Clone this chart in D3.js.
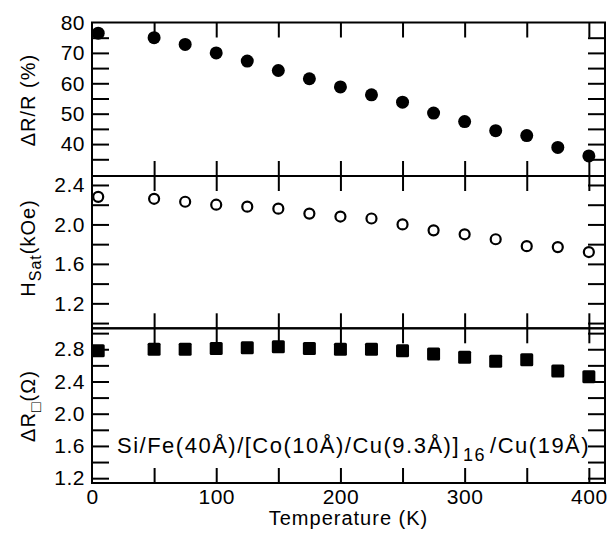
<!DOCTYPE html>
<html><head><meta charset="utf-8">
<script src="https://cdn.jsdelivr.net/npm/d3@7"></script>
<style>
html,body{margin:0;padding:0;background:#fff;}
svg text{font-family:"Liberation Sans",Arial,Helvetica,sans-serif;fill:#000;}
</style></head>
<body><svg id="c" width="616" height="533"></svg>
<script>
// ---- data ----
const temps = [5, 50, 75, 100, 125, 150, 175, 200, 225, 250, 275, 300, 325, 350, 375, 400];
const dRR = [76.5, 75.0, 72.8, 70.0, 67.3, 64.2, 61.5, 58.8, 56.2, 53.8, 50.2, 47.4, 44.4, 42.8, 38.9, 36.1];
const hSat = [2.28, 2.26, 2.23, 2.20, 2.18, 2.16, 2.11, 2.08, 2.06, 2.00, 1.94, 1.90, 1.85, 1.78, 1.77, 1.72];
const dR0 = [2.78, 2.80, 2.80, 2.81, 2.82, 2.83, 2.81, 2.80, 2.80, 2.78, 2.74, 2.70, 2.65, 2.67, 2.53, 2.46];
const xTickLabels = [0, 100, 200, 300, 400];
const topTickLabels = [40, 50, 60, 70, 80];
const midTickLabels = [1.2, 1.6, 2.0, 2.4];
const botTickLabels = [1.2, 1.6, 2.0, 2.4, 2.8];

const svg = d3.select("#c");
const L = 92, R = 605;
const x = d3.scaleLinear().domain([0, 413]).range([L, R]);

const panels = [
  {top: 22.5, bot: 176, domain: [29.5, 80], minor: d3.range(35, 76, 5), labels: topTickLabels, fmt: d3.format("d")},
  {top: 176, bot: 328.3, domain: [0.947, 2.491], minor: d3.range(1.0, 2.41, 0.2), labels: midTickLabels, fmt: d3.format(".1f")},
  {top: 328.3, bot: 483, domain: [1.14, 3.06], minor: d3.range(1.2, 3.01, 0.2), labels: botTickLabels, fmt: d3.format(".1f")}
];
panels.forEach(p => { p.y = d3.scaleLinear().domain(p.domain).range([p.bot, p.top]); });

const xMinor = d3.range(50, 401, 50);
const isLab = (arr, d) => arr.some(v => Math.abs(v - d) < 1e-6);

panels.forEach((p, i) => {
  const vals = p.minor.concat(p.labels.filter(v => !p.minor.some(m => Math.abs(m - v) < 1e-6)));
  const gl = svg.append("g").attr("transform", `translate(${L},0)`)
    .call(d3.axisLeft(p.y).tickValues(vals)
      .tickSize(-17).tickPadding(7).tickFormat(d => isLab(p.labels, d) ? p.fmt(d) : ""));
  gl.select(".domain").remove();
  gl.selectAll("line").attr("stroke", "#000").attr("stroke-width", 2)
    .filter(d => Math.abs(p.y(d) - p.top) < 2 || Math.abs(p.y(d) - p.bot) < 2).remove();
  gl.selectAll("text").attr("font-size", 21).attr("letter-spacing", 0.5);
  const gr = svg.append("g").attr("transform", `translate(${R},0)`)
    .call(d3.axisRight(p.y).tickValues(p.minor).tickSize(-17).tickFormat(""));
  gr.select(".domain").remove();
  gr.selectAll("line").attr("stroke", "#000").attr("stroke-width", 2);
  const gt = svg.append("g").attr("transform", `translate(0,${p.top})`)
    .call(d3.axisTop(x).tickValues(xMinor).tickSize(-15).tickFormat(""));
  gt.select(".domain").remove();
  gt.selectAll("line").attr("stroke", "#000").attr("stroke-width", 2);
  const gb = svg.append("g").attr("transform", `translate(0,${p.bot})`)
    .call(d3.axisBottom(x).tickValues(xMinor).tickSize(-15).tickFormat(""));
  gb.select(".domain").remove();
  gb.selectAll("line").attr("stroke", "#000").attr("stroke-width", 2);
  svg.append("rect").attr("x", L).attr("y", p.top).attr("width", R - L).attr("height", p.bot - p.top)
    .attr("fill", "none").attr("stroke", "#000").attr("stroke-width", 2);
});

const gx = svg.append("g").attr("transform", `translate(0,${panels[2].bot})`)
  .call(d3.axisBottom(x).tickValues(xTickLabels).tickSize(0).tickPadding(6).tickFormat(d3.format("d")));
gx.select(".domain").remove();
gx.selectAll("text").attr("font-size", 21).attr("letter-spacing", 0.5);

const P0 = panels[0], P1 = panels[1], P2 = panels[2];
svg.append("g").selectAll("circle").data(temps).join("circle")
  .attr("cx", d => x(d)).attr("cy", (d, i) => P0.y(dRR[i])).attr("r", 6.5).attr("fill", "#000");
svg.append("g").selectAll("circle").data(temps).join("circle")
  .attr("cx", d => x(d)).attr("cy", (d, i) => P1.y(hSat[i])).attr("r", 5).attr("fill", "#fff")
  .attr("stroke", "#000").attr("stroke-width", 2.2);
svg.append("g").selectAll("rect").data(temps).join("rect")
  .attr("x", d => x(d) - 6.5).attr("y", (d, i) => P2.y(dR0[i]) - 6.5).attr("width", 13).attr("height", 13)
  .attr("rx", 1.5).attr("fill", "#000");

function ytitle(cy, parts) {
  const t = svg.append("text").attr("transform", `translate(35,${cy}) rotate(-90)`)
    .attr("text-anchor", "middle").attr("font-size", 20).attr("letter-spacing", 1);
  parts.forEach(pt => {
    const s = t.append("tspan").text(pt.t);
    if (pt.sub) s.attr("font-size", 16).attr("dy", 6);
    if (pt.up) s.attr("dy", -6);
  });
}
ytitle(100, [{t: "ΔR/R (%)"}]);
ytitle(248, [{t: "H"}, {t: "Sat", sub: true}, {t: "(kOe)", up: true}]);
ytitle(406, [{t: "ΔR"}, {t: "□", sub: true}, {t: "(Ω)", up: true}]);

svg.append("text").attr("x", (L + R) / 2).attr("y", 525).attr("text-anchor", "middle")
  .attr("font-size", 20).attr("letter-spacing", 1).text("Temperature (K)");

const ann = svg.append("text").attr("x", 117).attr("y", 453).attr("font-size", 22).attr("letter-spacing", 1.5);
ann.append("tspan").text("Si/Fe(40Å)/[Co(10Å)/Cu(9.3Å)]");
ann.append("tspan").attr("font-size", 18).attr("dy", 8).attr("dx", 3).text("16");
ann.append("tspan").attr("dy", -8).attr("dx", 4).text("/Cu(19Å)");
</script></body></html>
